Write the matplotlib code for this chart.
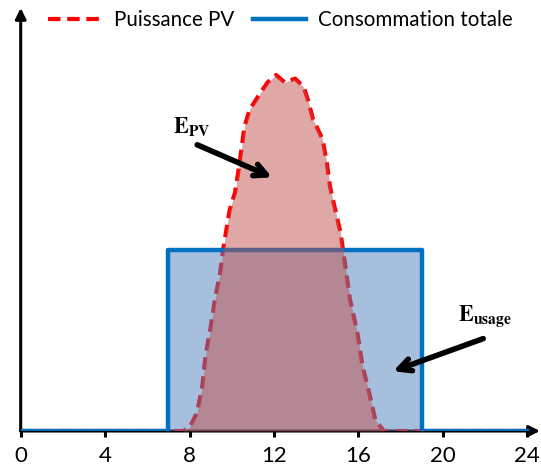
import matplotlib
matplotlib.use('Agg')
import matplotlib.pyplot as plt

# Puissance PV (kW)
pv_hours = [0, 7, 7.7, 8.0, 8.35, 8.6, 8.75, 9.0, 9.2, 9.45, 9.6, 9.9, 10.15, 10.3,
            10.45, 10.6, 10.85, 11.35, 11.7, 12.1, 12.5, 13.0, 13.4, 13.6, 13.85,
            14.3, 14.5, 14.65, 14.9, 15.15, 15.3, 15.6, 15.95, 16.2, 16.55, 16.8,
            17.2, 19, 24]
pv_values = [0, 0, 0, 0.04, 0.2, 0.49, 0.82, 1.15, 1.45, 1.75, 2.02, 2.44, 2.63, 2.85,
             3.1, 3.36, 3.55, 3.73, 3.85, 3.93, 3.85, 3.89, 3.8, 3.66, 3.44,
             3.22, 2.96, 2.7, 2.44, 2.19, 1.95, 1.45, 1.08, 0.71, 0.38, 0.12,
             0, 0, 0]

# Consommation totale (step)
cons_hours = [0, 7, 7, 19, 19, 24]
cons_values = [0, 0, 2, 2, 0, 0]

xticks = [0, 4, 8, 12, 16, 20, 24]

plt.rcParams['font.family'] = ['Lato', 'DejaVu Sans']
plt.rcParams['mathtext.fontset'] = 'stix'

fig = plt.figure(figsize=(5.41, 4.70), dpi=100)
ax = fig.add_axes([20.7 / 541, 39 / 470, 519.3 / 541, 423 / 470])
ax.set_xlim(0, 24.6)
ax.set_ylim(0, 4.67)

red = '#FF0000'
blue = '#0070C0'

ax.plot(pv_hours, pv_values, color=red, lw=3, linestyle=(0, (3, 1.6)),
        zorder=2, label='Puissance PV')
ax.fill_between(cons_hours, cons_values, color='#4F81BD', alpha=0.5, lw=0, zorder=3)
ax.plot(cons_hours, cons_values, color=blue, lw=3.2, zorder=4, label='Consommation totale')
ax.fill_between(pv_hours, pv_values, color='#C0504D', alpha=0.5, lw=0, zorder=5)

# axes with arrows
for s in ax.spines.values():
    s.set_visible(False)
ax.annotate('', xy=(24.6, 0), xytext=(0, 0),
            arrowprops=dict(arrowstyle='-|>', color='k', lw=2.2, mutation_scale=16,
                            shrinkA=0, shrinkB=0), zorder=1, annotation_clip=False)
ax.annotate('', xy=(0, 4.67), xytext=(0, 0),
            arrowprops=dict(arrowstyle='-|>', color='k', lw=2.2, mutation_scale=16,
                            shrinkA=0, shrinkB=0), zorder=1, annotation_clip=False)

ax.set_xticks(xticks)
ax.set_yticks([])
ax.tick_params(axis='x', direction='out', length=4, width=2.2, pad=7, labelsize=16)

# annotations
ax.text(8.12, 3.36, r'$\mathbf{E}_{\mathbf{PV}}$', fontsize=16, ha='center', va='center', zorder=6)
ax.annotate('', xy=(11.91, 2.80), xytext=(8.36, 3.16),
            arrowprops=dict(arrowstyle='->', color='k', lw=4, mutation_scale=22,
                            shrinkA=0, shrinkB=0), zorder=6)
ax.text(22.0, 1.27, r'$\mathbf{E}_{\mathbf{usage}}$', fontsize=16, ha='center', va='center', zorder=6)
ax.annotate('', xy=(17.64, 0.66), xytext=(21.91, 1.02),
            arrowprops=dict(arrowstyle='->', color='k', lw=4, mutation_scale=22,
                            shrinkA=0, shrinkB=0), zorder=6)

fig.legend(loc='center left', bbox_to_anchor=(48 / 541, 1 - 20 / 470), ncol=2,
           frameon=False, fontsize=14.8, handlelength=2.6, handletextpad=0.6,
           columnspacing=0.9, borderaxespad=0, borderpad=0)

fig.savefig('out.png', dpi=100)
